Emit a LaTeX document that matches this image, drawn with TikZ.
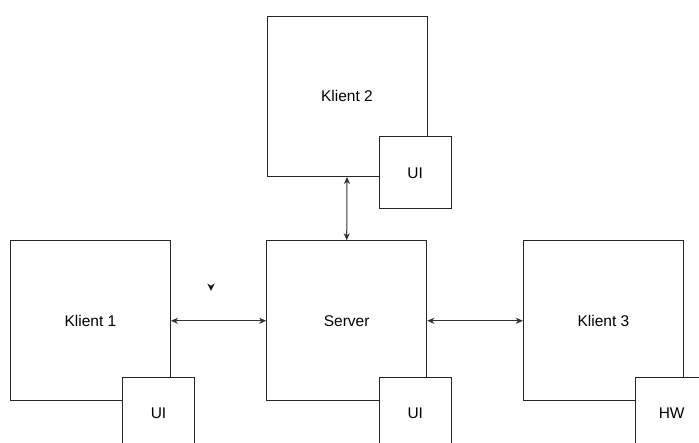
\documentclass[tikz,border=0pt]{standalone}
\usepackage{fontspec}
\setmainfont{Liberation Sans}
\usetikzlibrary{arrows.meta}
\begin{document}
\begin{tikzpicture}[x=1pt,y=-1pt,
  box/.style={draw=black!85,line width=1pt,fill=white,rectangle,inner sep=0pt,font=\fontsize{15.5}{18}\selectfont},
  big/.style={box,minimum width=160pt,minimum height=160pt},
  small/.style={box,minimum width=72pt,minimum height=72pt},
  conn/.style={draw=black!80,line width=1pt,{Stealth[length=7pt,width=6pt,inset=2pt]}-{Stealth[length=7pt,width=6pt,inset=2pt]}}]
\useasboundingbox (0,0) rectangle (699,443);
\clip (0,0) rectangle (699,443);
\node[big] (k1) at (90.4,320.8) {Klient 1};
\node[small] (k1ui) at (158.5,413.5) {UI};
\node[big] (srv) at (346.7,320.8) {Server};
\node[small] (srvui) at (415.3,413.5) {UI};
\node[big] (k2) at (347,96.4) {Klient 2};
\node[small] (k2ui) at (415.2,172.8) {UI};
\node[big] (k3) at (603.4,320.8) {Klient 3};
\node[small] (hw) at (671.7,413.5) {HW};
\draw[conn] (k1.east) -- (srv.west);
\draw[conn] (srv.east) -- (k3.west);
\draw[conn] (k2.south) -- (srv.north);
\fill[black!90] (207.3,283.5) -- (211,285.8) -- (214.7,283.5) -- (211,291) -- cycle;
\end{tikzpicture}
\end{document}
